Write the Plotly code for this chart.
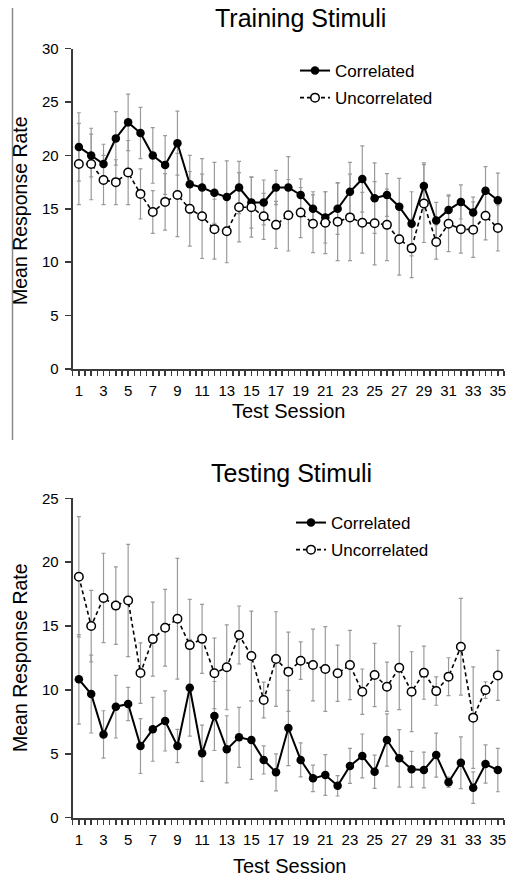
import plotly.graph_objects as go

W, H = 508, 879

sessions = list(range(1, 36))
tick_labels = [str(i) for i in range(1, 36, 2)]

train_corr = [20.8, 20.0, 19.2, 21.6, 23.1, 22.1, 20.0, 19.1, 21.15, 17.3, 17.0, 16.5, 16.1, 17.0, 15.6,
              15.6, 17.0, 17.0, 16.3, 15.0, 14.2, 15.0, 16.6, 17.8, 16.0, 16.3, 15.2, 13.6, 17.15, 13.9,
              14.9, 15.65, 14.65, 16.7, 15.8]
train_corr_err = [3.2, 2.0, 1.85, 2.5, 2.65, 2.4, 2.6, 2.75, 3.0, 2.7, 2.7, 2.85, 3.4, 2.45, 2.4,
                  2.1, 1.6, 2.9, 1.5, 1.6, 2.4, 2.4, 2.75, 3.1, 3.3, 2.0, 2.65, 3.0, 2.15, 1.7,
                  1.4, 1.6, 1.45, 2.25, 2.55]
train_unc = [19.2, 19.2, 17.7, 17.5, 18.4, 16.4, 14.7, 15.65, 16.3, 15.0, 14.3, 13.1, 12.9, 15.15, 15.15,
             14.3, 13.5, 14.4, 14.65, 13.6, 13.7, 13.8, 14.2, 13.7, 13.65, 13.5, 12.15, 11.3, 15.5, 11.9,
             13.6, 13.1, 13.05, 14.35, 13.2]
train_unc_err = [3.8, 3.35, 2.3, 2.1, 3.0, 2.35, 2.0, 2.65, 3.9, 3.5, 3.95, 2.8, 2.95, 3.25, 2.8,
                 2.15, 2.2, 3.35, 2.35, 2.7, 2.9, 3.65, 4.05, 2.85, 3.9, 3.35, 3.35, 2.75, 3.65, 1.6,
                 2.6, 2.25, 2.6, 2.25, 2.15]

test_corr = [10.83, 9.68, 6.52, 8.69, 8.9, 5.61, 6.92, 7.57, 5.61, 10.17, 5.04, 7.96, 5.35, 6.29, 6.08,
             4.52, 3.55, 7.02, 4.52, 3.08, 3.34, 2.5, 4.05, 4.83, 3.6, 6.08, 4.65, 3.79, 3.73, 4.9,
             2.77, 4.3, 2.35, 4.2, 3.73]
test_corr_err = [3.5, 3.05, 1.85, 2.45, 1.3, 2.15, 2.5, 2.35, 1.3, 3.78, 2.2, 2.7, 2.63, 2.35, 3.08,
                 1.1, 1.45, 2.95, 1.33, 1.04, 1.6, 0.8, 1.37, 1.72, 1.3, 2.05, 2.25, 1.4, 1.4, 1.72,
                 0.4, 2.03, 1.23, 1.5, 1.7]
test_unc = [18.86, 15.0, 17.2, 16.6, 17.0, 11.32, 13.98, 14.87, 15.57, 13.51, 14.0, 11.3, 11.77, 14.3, 12.65,
            9.21, 12.42, 11.43, 12.29, 11.95, 11.64, 11.3, 11.95, 9.86, 11.17, 10.25, 11.74, 9.86, 11.35, 9.91,
            11.04, 13.38, 7.83, 9.99, 11.14]
test_unc_err = [4.7, 2.8, 3.5, 3.04, 4.4, 2.37, 2.9, 3.0, 4.73, 3.58, 2.7, 2.76, 3.32, 2.27, 3.52,
                1.4, 3.7, 3.1, 1.47, 2.81, 3.32, 2.2, 2.71, 1.78, 2.48, 1.92, 3.28, 3.13, 2.08, 1.11,
                1.48, 3.78, 3.97, 0.65, 1.95]

FONT = "Liberation Sans, Arial, sans-serif"
ERR_COLOR = "#9a9a9a"
AXIS_COLOR = "#3a3a3a"


def px_x(p):
    return p / W


def px_y(p):
    return 1 - p / H


fig = go.Figure()


def add_panel(xa, ya, corr, corr_err, unc, unc_err, legend):
    # error bars first (behind lines/markers)
    for vals, errs in ((corr, corr_err), (unc, unc_err)):
        fig.add_trace(go.Scatter(
            x=sessions, y=vals, mode="markers",
            marker=dict(size=1, color="rgba(0,0,0,0)"),
            error_y=dict(type="data", array=errs, visible=True, color=ERR_COLOR,
                         thickness=1.2, width=2),
            showlegend=False, hoverinfo="skip", xaxis=xa, yaxis=ya))
    fig.add_trace(go.Scatter(
        x=sessions, y=corr, mode="lines+markers", name="Correlated",
        line=dict(color="black", width=2),
        marker=dict(symbol="circle", size=8.5, color="black"),
        xaxis=xa, yaxis=ya, legend=legend, legendgroup="c" + legend))
    fig.add_trace(go.Scatter(
        x=sessions, y=unc, mode="lines+markers", name="Uncorrelated",
        line=dict(color="black", width=1.6, dash="4px,3px"),
        marker=dict(symbol="circle", size=8.5, color="white", line=dict(color="black", width=1.5)),
        xaxis=xa, yaxis=ya, legend=legend, legendgroup="u" + legend))


add_panel("x", "y", train_corr, train_corr_err, train_unc, train_unc_err, "legend")
add_panel("x2", "y2", test_corr, test_corr_err, test_unc, test_unc_err, "legend2")

xdom = [px_x(72.7), px_x(504)]

xcommon = dict(
    range=[0.5, 35.5], tickmode="array", tickvals=list(range(1, 36, 2)), ticktext=tick_labels,
    ticks="outside", ticklen=5, tickwidth=1.5, tickcolor=AXIS_COLOR,
    minor=dict(tickmode="linear", tick0=0.5, dtick=0.5, ticks="outside", ticklen=5,
               tickwidth=1.5, tickcolor=AXIS_COLOR, showgrid=False),
    showline=True, linecolor=AXIS_COLOR, linewidth=2, showgrid=False, zeroline=False,
    tickfont=dict(family=FONT, size=15, color="black"), ticklabelstandoff=2, fixedrange=True,
    automargin=False,
)
ycommon = dict(
    ticks="outside", ticklen=6, tickwidth=1.5, tickcolor=AXIS_COLOR,
    showline=True, linecolor=AXIS_COLOR, linewidth=2, showgrid=False, zeroline=False,
    tickfont=dict(family=FONT, size=15, color="black"), ticklabelstandoff=3, fixedrange=True,
    dtick=5, automargin=False,
)

fig.update_layout(
    width=W, height=H, margin=dict(l=0, r=0, t=0, b=0, pad=0, autoexpand=False),
    paper_bgcolor="white", plot_bgcolor="white",
    font=dict(family=FONT, color="black"),
    hovermode=False,
    xaxis=dict(domain=xdom, anchor="y", **xcommon),
    yaxis=dict(domain=[px_y(369), px_y(48.7)], range=[0, 30], anchor="x", **ycommon),
    xaxis2=dict(domain=xdom, anchor="y2", **xcommon),
    yaxis2=dict(domain=[px_y(817.7), px_y(498.3)], range=[0, 25], anchor="x2", **ycommon),
    legend=dict(x=px_x(295), y=px_y(53), xanchor="left", yanchor="top",
                font=dict(family=FONT, size=17, color="black"), tracegroupgap=2,
                bgcolor="rgba(0,0,0,0)", itemwidth=30),
    legend2=dict(x=px_x(291), y=px_y(505), xanchor="left", yanchor="top",
                 font=dict(family=FONT, size=17, color="black"), tracegroupgap=2,
                 bgcolor="rgba(0,0,0,0)", itemwidth=30),
    showlegend=True,
)

ann_font_title = dict(family=FONT, size=25, color="black")
ann_font_axis = dict(family=FONT, size=19.5, color="black")
fig.add_annotation(text="Training Stimuli", x=px_x(300), y=px_y(18), xref="paper", yref="paper",
                   showarrow=False, font=ann_font_title, xanchor="center", yanchor="middle")
fig.add_annotation(text="Testing Stimuli", x=px_x(291), y=px_y(473), xref="paper", yref="paper",
                   showarrow=False, font=ann_font_title, xanchor="center", yanchor="middle")
fig.add_annotation(text="Mean Response Rate", x=px_x(20), y=px_y(211), xref="paper", yref="paper",
                   showarrow=False, font=ann_font_axis, textangle=-90, xanchor="center", yanchor="middle")
fig.add_annotation(text="Mean Response Rate", x=px_x(20), y=px_y(658), xref="paper", yref="paper",
                   showarrow=False, font=ann_font_axis, textangle=-90, xanchor="center", yanchor="middle")
fig.add_annotation(text="Test Session", x=px_x(288), y=px_y(411), xref="paper", yref="paper",
                   showarrow=False, font=dict(family=FONT, size=20, color="black"),
                   xanchor="center", yanchor="middle")
fig.add_annotation(text="Test Session", x=px_x(289), y=px_y(866), xref="paper", yref="paper",
                   showarrow=False, font=dict(family=FONT, size=20, color="black"),
                   xanchor="center", yanchor="middle")

fig.add_shape(type="line", xref="paper", yref="paper", x0=px_x(12.5), x1=px_x(12.5),
              y0=px_y(8), y1=px_y(440), line=dict(color="#8a8a8a", width=1.5))

# remove the browser's default page margin so the 508x879 figure fills the window exactly
fig.write_html("out.html", config={"displayModeBar": False, "staticPlot": True},
               post_script="document.body.style.margin='0px';document.body.style.overflow='hidden';")
